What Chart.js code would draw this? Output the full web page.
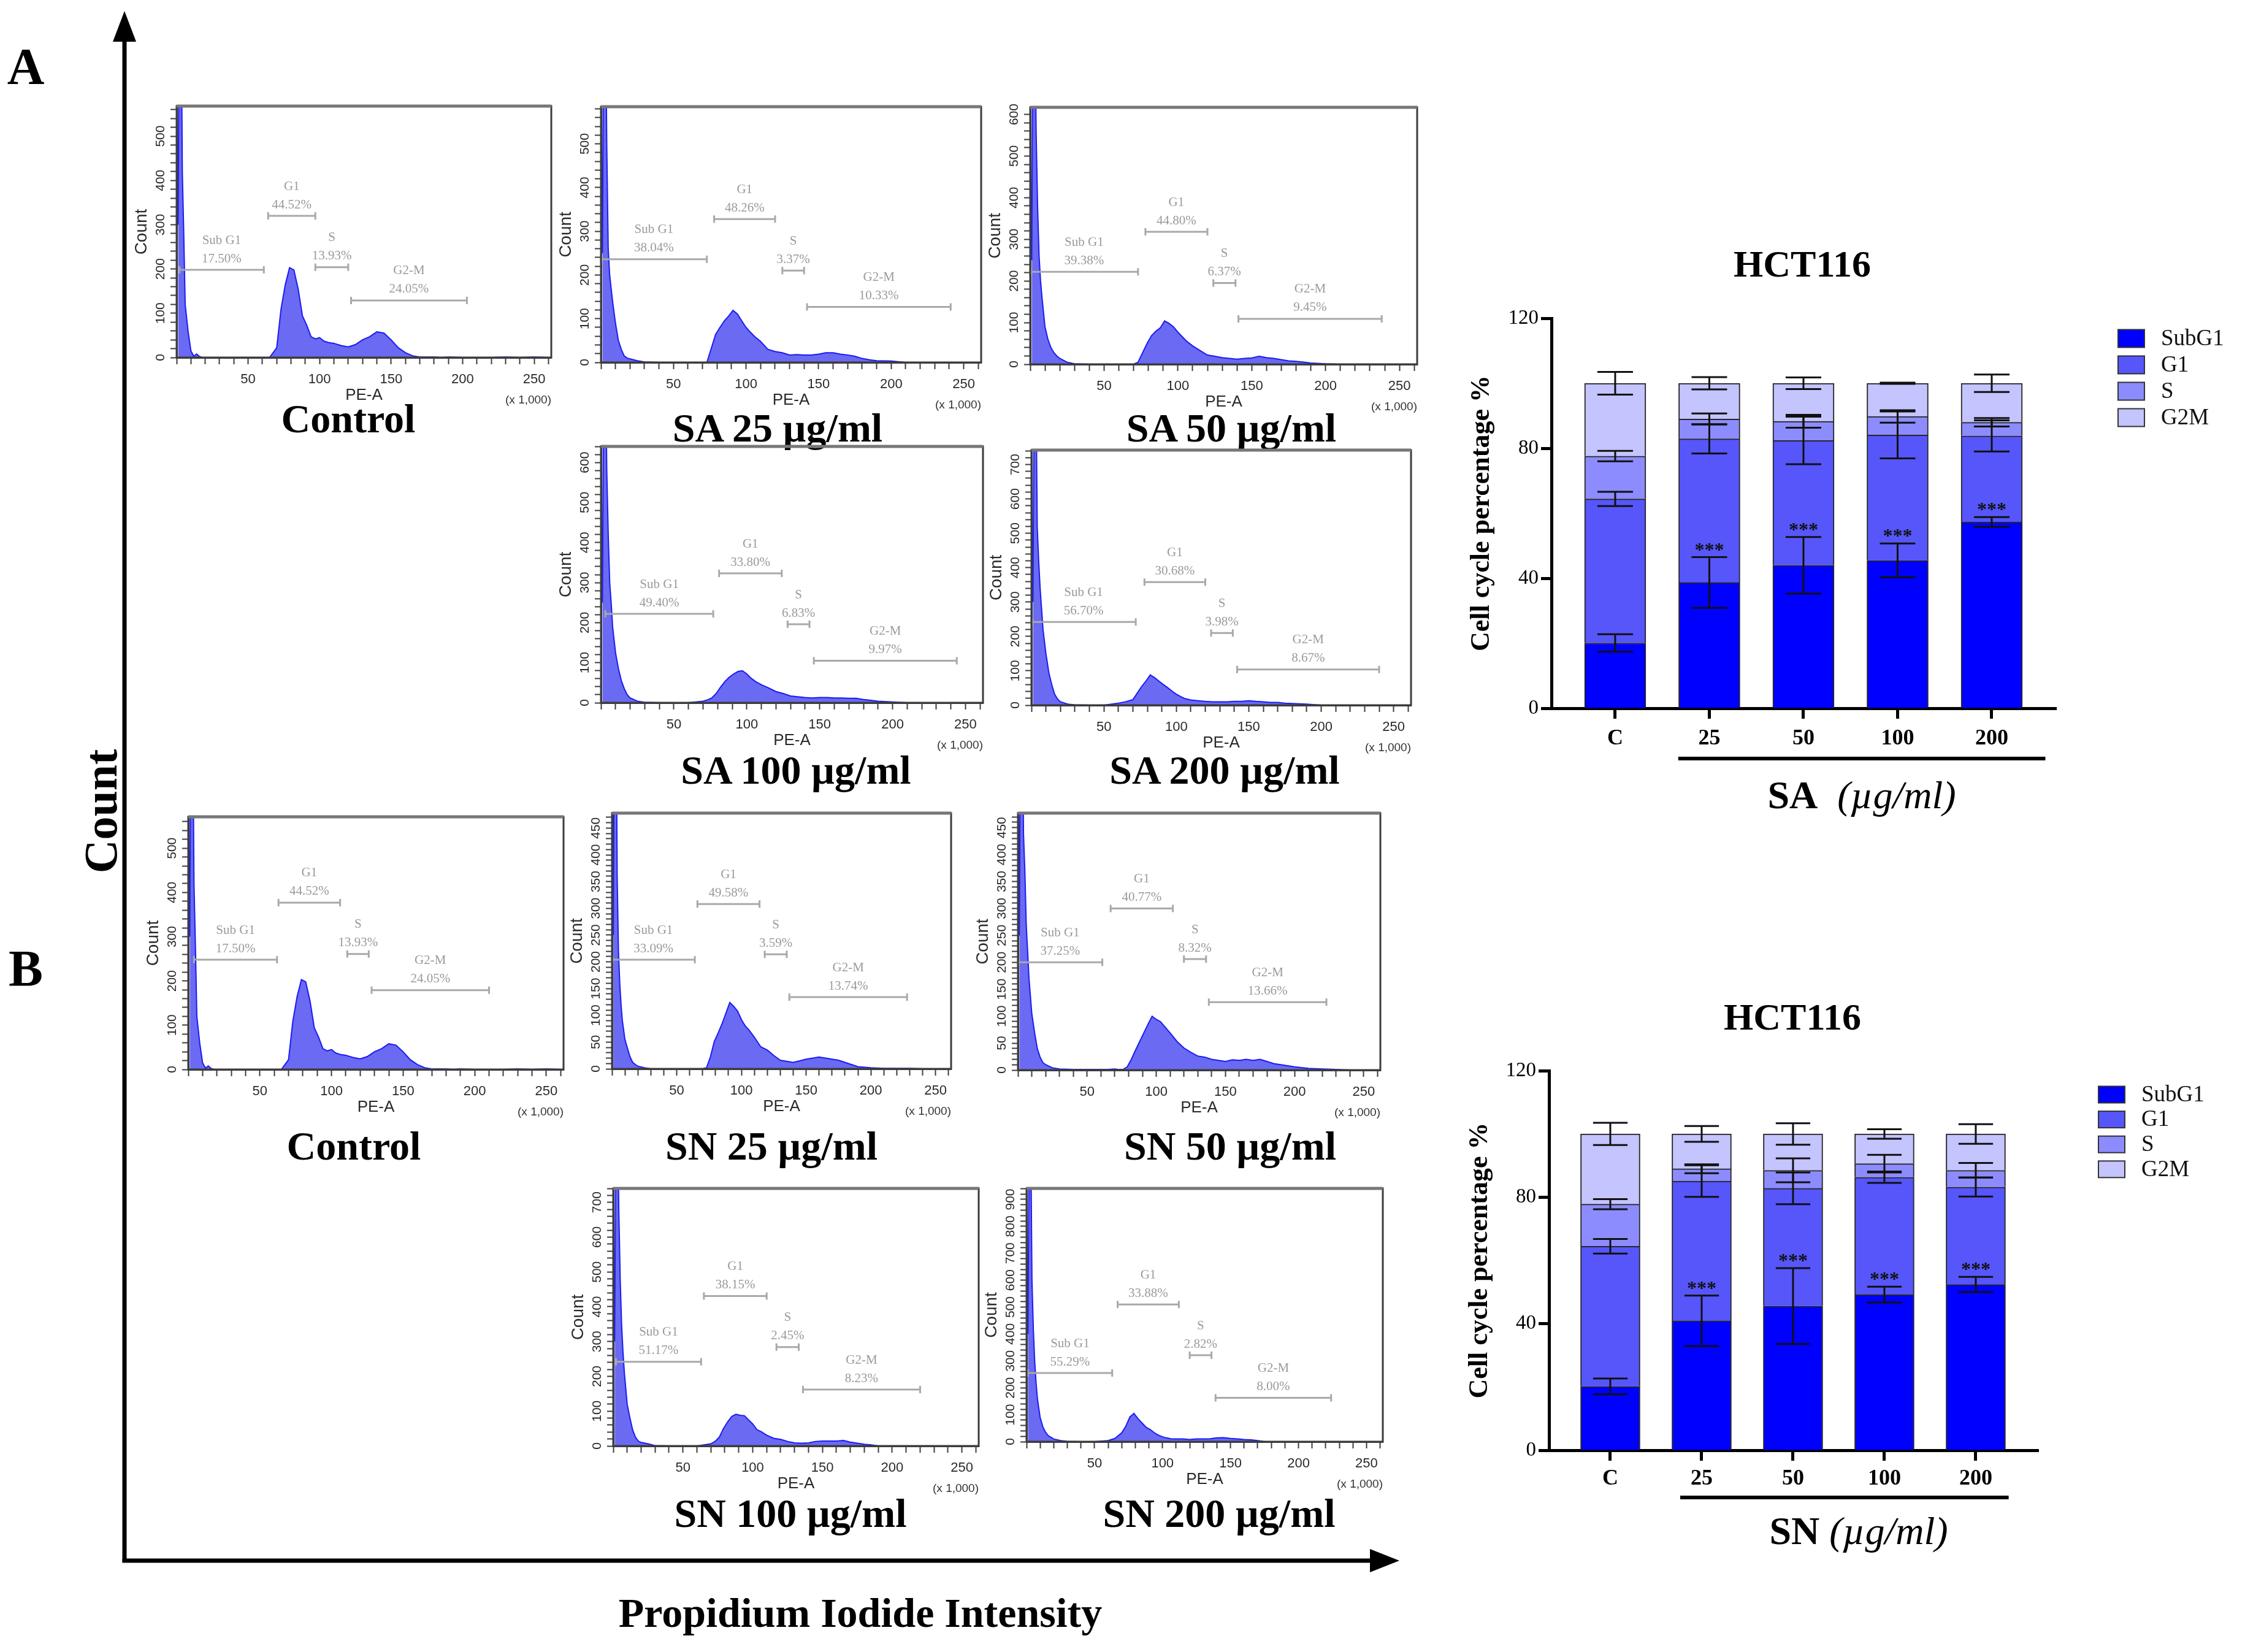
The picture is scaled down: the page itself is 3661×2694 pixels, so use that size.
<!DOCTYPE html>
<html>
<head>
<meta charset="utf-8">
<title>HCT116 cell cycle - SA / SN</title>
<script src="https://cdn.jsdelivr.net/npm/chart.js@4.4.1/dist/chart.umd.min.js"></script>
<style>
  html, body { margin: 0; padding: 0; background: #fff; }
  #page { position: relative; width: 3661px; height: 2694px; overflow: hidden; background: #fff; }
  .txt { position: absolute; transform: translate(-50%, -50%); white-space: nowrap; line-height: 1;
         color: #000; font-family: "Liberation Serif", "DejaVu Serif", serif; font-weight: bold; }
  canvas { position: absolute; }
  svg { position: absolute; left: 0; top: 0; }
</style>
</head>
<body>
<div id="page">
  <svg width="3661" height="2694">
    <line x1="203" y1="2548" x2="203" y2="60" stroke="#000" stroke-width="7"/>
    <polygon points="203,18 184,68 222,68" fill="#000"/>
    <line x1="199.5" y1="2545" x2="2240" y2="2545" stroke="#000" stroke-width="7"/>
    <polygon points="2282,2545 2234,2526 2234,2564" fill="#000"/>
  </svg>
</div>
<script>
// ======================
// Histogram data (PE-A x1000 -> count)
// ======================
const histBins = [1, 2, 3, 4, 5, 6, 7, 8, 10, 12, 14, 16, 18, 20, 25, 30, 40, 50, 60, 65, 70,
  73, 76, 79, 82, 85, 88, 91, 94, 97, 100, 103, 106, 110, 115, 120, 125, 130, 135, 140, 145,
  150, 155, 160, 165, 170, 175, 180, 185, 190, 200, 210, 220, 230, 240, 250, 260];

const ctrlCounts = [300, 900, 900, 420, 280, 120, 90, 60, 15, 3, 8, 2, 0, 0, 0, 0, 0, 0, 0, 0, 22,
  109, 165, 203, 198, 155, 94, 73, 47, 42, 45, 37, 34, 32, 27, 24, 29, 40, 47, 58, 55,
  40, 22, 11, 4, 1, 1, 1, 0, 1, 0, 0, 0, 1, 0, 1, 0];
const sa25Counts = [250, 900, 900, 500, 260, 200, 170, 140, 90, 50, 30, 15, 10, 8, 4, 1, 0, 0, 0, 0, 0,
  0, 32, 64, 80, 95, 106, 119, 111, 95, 80, 69, 59, 48, 30, 25, 22, 17, 18, 17, 17,
  19, 22, 22, 19, 17, 14, 9, 6, 4, 3, 0, 0, 0, 0, 0, 0];
const sa50Counts = [250, 900, 900, 560, 380, 260, 200, 160, 90, 60, 40, 28, 20, 14, 5, 1, 0, 0, 0, 0, 0,
  5, 27, 49, 68, 79, 87, 104, 98, 90, 77, 66, 55, 44, 33, 22, 19, 16, 14, 12, 14,
  15, 19, 16, 14, 11, 8, 7, 5, 3, 1, 0, 0, 0, 0, 0, 0];
const sa100Counts = [250, 900, 900, 580, 420, 300, 250, 190, 125, 85, 55, 35, 20, 12, 4, 1, 0, 0, 0, 2, 4,
  7, 12, 23, 39, 53, 64, 72, 78, 80, 72, 61, 53, 45, 37, 28, 23, 17, 15, 13, 12,
  13, 13, 12, 12, 11, 11, 8, 6, 4, 2, 0, 0, 0, 0, 0, 0];
const sa200Counts = [300, 1000, 1000, 520, 420, 340, 280, 220, 150, 95, 60, 32, 18, 10, 3, 1, 0, 0, 6, 10, 16,
  35, 54, 70, 88, 80, 70, 60, 51, 41, 32, 25, 19, 15, 13, 11, 10, 10, 10, 11, 11,
  13, 11, 10, 8, 8, 6, 5, 4, 3, 0, 0, 0, 0, 0, 0, 0];
const sn25Counts = [250, 800, 800, 360, 220, 160, 120, 90, 55, 38, 22, 12, 8, 5, 2, 0, 0, 0, 0, 0, 0,
  2, 22, 51, 67, 84, 104, 124, 117, 108, 92, 80, 72, 59, 41, 35, 25, 16, 14, 12, 15,
  18, 20, 22, 20, 18, 16, 12, 8, 4, 2, 1, 1, 1, 0, 0, 0];
const sn50Counts = [250, 800, 800, 440, 370, 270, 220, 170, 105, 70, 40, 24, 14, 10, 4, 2, 1, 1, 1, 1, 2,
  1, 1, 6, 20, 37, 53, 69, 85, 100, 94, 90, 81, 69, 53, 41, 33, 26, 24, 20, 18,
  16, 19, 18, 20, 18, 20, 16, 12, 10, 6, 3, 2, 1, 0, 0, 0];
const sn100Counts = [300, 1000, 1000, 680, 480, 350, 270, 210, 120, 80, 45, 25, 14, 10, 6, 1, 0, 0, 0, 3, 6,
  13, 25, 50, 69, 85, 91, 88, 87, 75, 63, 47, 41, 31, 22, 19, 13, 9, 8, 9, 13,
  14, 14, 14, 16, 11, 8, 5, 3, 0, 0, 0, 0, 0, 0, 0, 0];
const sn200Counts = [400, 1200, 1200, 600, 420, 300, 220, 160, 90, 55, 35, 22, 16, 10, 4, 1, 0, 0, 4, 12, 33,
  57, 92, 105, 85, 69, 53, 45, 33, 24, 18, 14, 11, 10, 10, 8, 10, 10, 11, 14, 15,
  12, 10, 8, 7, 4, 0, 0, 0, 0, 0, 0, 0, 0, 0, 0, 0];

// gates: [from, to] on PE-A, height in counts, percentage text
const gateNames = ['Sub G1', 'G1', 'S', 'G2-M'];
const ctrlAGateX = [[2, 61], [64, 97], [97, 120], [122, 203]];
const ctrlAGateY = [198, 320, 204, 129];
const ctrlPct = ['17.50%', '44.52%', '13.93%', '24.05%'];
const sa25GateX = [[0, 73], [78, 120], [125, 140], [142, 241]];
const sa25GateY = [236, 328, 210, 127];
const sa25Pct = ['38.04%', '48.26%', '3.37%', '10.33%'];
const sa50GateX = [[0, 73], [78, 120], [124, 139], [141, 238]];
const sa50GateY = [222, 318, 195, 109];
const sa50Pct = ['39.38%', '44.80%', '6.37%', '9.45%'];
const sa100GateX = [[3, 77], [81, 124], [128, 143], [146, 244]];
const sa100GateY = [222, 323, 196, 105];
const sa100Pct = ['49.40%', '33.80%', '6.83%', '9.97%'];
const sa200GateX = [[0, 72], [78, 120], [124, 139], [142, 240]];
const sa200GateY = [242, 358, 210, 104];
const sa200Pct = ['56.70%', '30.68%', '3.98%', '8.67%'];
const ctrlBGateX = [[4, 62], [63, 106], [111, 126], [128, 210]];
const ctrlBGateY = [248, 377, 261, 179];
const sn25GateX = [[0, 64], [66, 114], [118, 135], [137, 228]];
const sn25GateY = [204, 308, 214, 134];
const sn25Pct = ['33.09%', '49.58%', '3.59%', '13.74%'];
const sn50GateX = [[0, 61], [67, 112], [120, 136], [138, 223]];
const sn50GateY = [200, 300, 206, 126];
const sn50Pct = ['37.25%', '40.77%', '8.32%', '13.66%'];
const sn100GateX = [[2, 63], [65, 110], [117, 133], [136, 220]];
const sn100GateY = [242, 431, 284, 162];
const sn100Pct = ['51.17%', '38.15%', '2.45%', '8.23%'];
const sn200GateX = [[1, 63], [67, 112], [120, 136], [139, 224]];
const sn200GateY = [255, 510, 321, 163];
const sn200Pct = ['55.29%', '33.88%', '2.82%', '8.00%'];

// ======================
// Cell cycle bar data (%)
// ======================
const doseLabels = ['C', '25', '50', '100', '200'];
const phaseNames = ['SubG1', 'G1', 'S', 'G2M'];

const saSubG1 = [20.1, 38.7, 44.0, 45.5, 57.3];
const saG1 = [44.3, 44.2, 38.4, 38.6, 26.5];
const saS = [13.2, 6.1, 5.9, 5.7, 4.2];
const saG2M = [22.4, 11.0, 11.7, 10.2, 12.0];
const saSubG1Err = [2.7, 7.8, 8.7, 5.2, 1.5];
const saG1Err = [2.2, 4.5, 7.3, 7.2, 4.8];
const saSErr = [1.6, 1.7, 2.0, 1.9, 1.3];
const saG2MErr = [3.5, 1.9, 1.8, 0.2, 2.7];
const saStars = ['', '***', '***', '***', '***'];

const snSubG1 = [20.2, 40.9, 45.6, 49.2, 52.4];
const snG1 = [44.3, 44.2, 37.2, 37.1, 30.8];
const snS = [13.3, 3.9, 5.7, 4.3, 5.3];
const snG2M = [22.2, 11.0, 11.5, 9.4, 11.5];
const snSubG1Err = [2.5, 8.0, 12.0, 2.5, 2.4];
const snG1Err = [2.3, 5.0, 5.0, 1.8, 3.0];
const snSErr = [1.6, 1.4, 3.8, 2.8, 2.3];
const snG2MErr = [3.5, 2.5, 3.4, 1.5, 3.1];
const snStars = ['', '***', '***', '***', '***'];

// ======================
// Styling / layout
// ======================
const serif = '"Liberation Serif", "DejaVu Serif", serif';
const sans = '"Liberation Sans", Arial, sans-serif';
const phaseColors = ['#0000ff', '#5656fb', '#8c8cff', '#c4c4ff'];
const page = document.getElementById('page');

Chart.defaults.font.family = serif;

function addText(html, x, y, size, extra) {
  const d = document.createElement('div');
  d.className = 'txt';
  d.innerHTML = html;
  d.style.left = x + 'px';
  d.style.top = y + 'px';
  d.style.fontSize = size + 'px';
  if (extra) Object.assign(d.style, extra);
  page.appendChild(d);
}

// resize / move a chart so its plotting area lands on box = [L, T, R, B]
function fitChart(chart, canvas, box) {
  const [L, T, R, B] = box;
  for (let k = 0; k < 4; k++) {
    const a = chart.chartArea;
    const w = Math.round(chart.width + (R - L) - (a.right - a.left));
    const h = Math.round(chart.height + (B - T) - (a.bottom - a.top));
    if (w === chart.width && h === chart.height) break;
    chart.resize(w, h);
  }
  const a = chart.chartArea;
  canvas.style.left = (L - a.left) + 'px';
  canvas.style.top = (T - a.top) + 'px';
}

// gate bars, frame and the (x 1,000) note of every histogram
const gatePlugin = {
  id: 'gates',
  afterDatasetsDraw(chart, args, opts) {
    const { ctx, scales: { x, y } } = chart;
    ctx.save();
    opts.gateX.forEach((g, i) => {
      const x1 = x.getPixelForValue(g[0]);
      const x2 = x.getPixelForValue(g[1]);
      const yy = y.getPixelForValue(opts.gateY[i]);
      ctx.strokeStyle = '#a9a9a9';
      ctx.lineWidth = 3;
      ctx.beginPath();
      ctx.moveTo(x1, yy); ctx.lineTo(x2, yy);
      ctx.moveTo(x1, yy - 6); ctx.lineTo(x1, yy + 6);
      ctx.moveTo(x2, yy - 6); ctx.lineTo(x2, yy + 6);
      ctx.stroke();
      ctx.fillStyle = '#9a9a9a';
      ctx.font = '21px ' + serif;
      ctx.textAlign = 'center';
      ctx.textBaseline = 'middle';
      const cx = (x1 + x2) / 2;
      ctx.fillText(gateNames[i], cx, yy - 48);
      ctx.fillText(opts.pct[i], cx, yy - 18);
    });
    ctx.restore();
  },
  afterDraw(chart) {
    const { ctx, chartArea: a } = chart;
    ctx.save();
    ctx.strokeStyle = '#3c3c3c';
    ctx.lineWidth = 3;
    ctx.strokeRect(a.left, a.top, a.right - a.left, a.bottom - a.top);
    ctx.strokeStyle = '#777';
    ctx.lineWidth = 5;
    ctx.beginPath(); ctx.moveTo(a.left, a.top); ctx.lineTo(a.right, a.top); ctx.stroke();
    ctx.fillStyle = '#333';
    ctx.font = '19px ' + sans;
    ctx.textAlign = 'right';
    ctx.textBaseline = 'middle';
    ctx.fillText('(x 1,000)', a.right, a.bottom + 70);
    ctx.restore();
  }
};

const histPanels = [
  { box: [288, 173, 899, 583], yMax: 568, yStep: 20, yLab: 100, counts: ctrlCounts, gateX: ctrlAGateX, gateY: ctrlAGateY, pct: ctrlPct, caption: 'Control', cap: [568, 683] },
  { box: [980, 174, 1600, 591], yMax: 585, yStep: 20, yLab: 100, counts: sa25Counts, gateX: sa25GateX, gateY: sa25GateY, pct: sa25Pct, caption: 'SA 25 µg/ml', cap: [1268, 698] },
  { box: [1680, 175, 2311, 594], yMax: 617, yStep: 20, yLab: 100, counts: sa50Counts, gateX: sa50GateX, gateY: sa50GateY, pct: sa50Pct, caption: 'SA 50 µg/ml', cap: [2008, 698] },
  { box: [980, 728, 1603, 1146], yMax: 640, yStep: 20, yLab: 100, counts: sa100Counts, gateX: sa100GateX, gateY: sa100GateY, pct: sa100Pct, caption: 'SA 100 µg/ml', cap: [1298, 1256] },
  { box: [1682, 734, 2301, 1150], yMax: 742, yStep: 20, yLab: 100, counts: sa200Counts, gateX: sa200GateX, gateY: sa200GateY, pct: sa200Pct, caption: 'SA 200 µg/ml', cap: [1997, 1256] },
  { box: [307, 1332, 919, 1744], yMax: 571, yStep: 20, yLab: 100, counts: ctrlCounts, gateX: ctrlBGateX, gateY: ctrlBGateY, pct: ctrlPct, caption: 'Control', cap: [577, 1869] },
  { box: [998, 1326, 1551, 1743], yMax: 478, yStep: 10, yLab: 50, counts: sn25Counts, gateX: sn25GateX, gateY: sn25GateY, pct: sn25Pct, caption: 'SN 25 µg/ml', cap: [1258, 1869] },
  { box: [1660, 1326, 2251, 1745], yMax: 477, yStep: 10, yLab: 50, counts: sn50Counts, gateX: sn50GateX, gateY: sn50GateY, pct: sn50Pct, caption: 'SN 50 µg/ml', cap: [2006, 1869] },
  { box: [1000, 1938, 1596, 2358], yMax: 740, yStep: 20, yLab: 100, counts: sn100Counts, gateX: sn100GateX, gateY: sn100GateY, pct: sn100Pct, caption: 'SN 100 µg/ml', cap: [1289, 2468] },
  { box: [1674, 1938, 2255, 2351], yMax: 941, yStep: 20, yLab: 100, counts: sn200Counts, gateX: sn200GateX, gateY: sn200GateY, pct: sn200Pct, caption: 'SN 200 µg/ml', cap: [1988, 2468] }
];

function drawHistogram(p) {
  const padL = 82, padT = 24, padR = 12, padB = 92;
  const [L, T, R, B] = p.box;
  const canvas = document.createElement('canvas');
  canvas.width = R - L + padL + padR;
  canvas.height = B - T + padT + padB;
  page.appendChild(canvas);

  const chart = new Chart(canvas, {
    type: 'line',
    data: {
      datasets: [{
        data: histBins.map((x, i) => ({ x: x, y: p.counts[i] })),
        borderColor: '#1c1cf2',
        backgroundColor: '#6a6af3',
        borderWidth: 2,
        fill: 'origin',
        pointRadius: 0,
        tension: 0
      }]
    },
    options: {
      responsive: false,
      maintainAspectRatio: false,
      animation: false,
      devicePixelRatio: 1,
      layout: { padding: { left: 0, top: padT, right: padR, bottom: 0 } },
      plugins: {
        legend: { display: false },
        tooltip: { enabled: false },
        gates: { gateX: p.gateX, gateY: p.gateY, pct: p.pct }
      },
      scales: {
        x: {
          type: 'linear', min: 0, max: 262,
          afterFit: s => { s.height = padB; },
          border: { color: '#3c3c3c', width: 3 },
          grid: { drawOnChartArea: false, tickLength: 11, tickWidth: 2, color: '#3c3c3c' },
          ticks: {
            stepSize: 10, autoSkip: false, includeBounds: false, maxRotation: 0, padding: 12,
            color: '#2a2a2a', font: { size: 22, family: sans },
            callback: v => (v > 0 && Math.round(v) % 50 === 0) ? String(Math.round(v)) : ''
          },
          title: { display: true, text: 'PE-A', color: '#2a2a2a', font: { size: 26, family: sans }, padding: { top: 0, bottom: 15 } }
        },
        y: {
          min: 0, max: p.yMax,
          afterFit: s => { s.width = padL; },
          border: { color: '#3c3c3c', width: 3 },
          grid: { drawOnChartArea: false, tickLength: 10, tickWidth: 2, color: '#3c3c3c' },
          ticks: {
            stepSize: p.yStep, autoSkip: false, includeBounds: false,
            minRotation: 90, maxRotation: 90, crossAlign: 'center', padding: -2,
            color: '#2a2a2a', font: { size: 21, family: sans },
            callback: v => Math.round(v) % p.yLab === 0 ? String(Math.round(v)) : ''
          },
          title: { display: true, text: 'Count', color: '#2a2a2a', font: { size: 28, family: sans }, padding: { top: 8, bottom: 0 } }
        }
      }
    },
    plugins: [gatePlugin]
  });

  fitChart(chart, canvas, p.box);
  addText(p.caption, p.cap[0], p.cap[1], 66);
}

histPanels.forEach(drawHistogram);

// ======================
// Stacked cell-cycle bars
// ======================
const cellCyclePlugin = {
  id: 'cellCycle',
  afterDatasetsDraw(chart, args, opts) {
    const { ctx, scales: { y } } = chart;
    const sets = chart.data.datasets;
    ctx.save();
    ctx.strokeStyle = '#111';
    ctx.lineWidth = 3;
    for (let i = 0; i < doseLabels.length; i++) {
      let cum = 0;
      sets.forEach((ds, k) => {
        cum += ds.data[i].y;
        const bar = chart.getDatasetMeta(k).data[i];
        const err = opts.errors[k][i];
        const yTop = y.getPixelForValue(cum + err);
        const yBot = y.getPixelForValue(cum - err);
        const half = bar.width * 0.29;
        ctx.beginPath();
        ctx.moveTo(bar.x, yTop); ctx.lineTo(bar.x, yBot);
        ctx.moveTo(bar.x - half, yTop); ctx.lineTo(bar.x + half, yTop);
        ctx.moveTo(bar.x - half, yBot); ctx.lineTo(bar.x + half, yBot);
        ctx.stroke();
        if (k === 0 && opts.stars[i]) {
          ctx.fillStyle = '#111';
          ctx.font = 'bold 32px ' + serif;
          ctx.textAlign = 'center';
          ctx.textBaseline = 'alphabetic';
          ctx.fillText(opts.stars[i], bar.x, yTop - 2);
        }
      });
    }
    ctx.restore();
  },
  afterDraw(chart, args, opts) {
    const { ctx, chartArea: a, scales: { x } } = chart;
    const lg = opts.legend;
    ctx.save();
    // legend
    chart.data.datasets.forEach((ds, k) => {
      const bx = a.right + lg.dx;
      const cy = a.top + lg.dy + k * lg.gap;
      ctx.fillStyle = ds.backgroundColor;
      ctx.fillRect(bx, cy - lg.h / 2, lg.w, lg.h);
      ctx.strokeStyle = '#333';
      ctx.lineWidth = 2;
      ctx.strokeRect(bx, cy - lg.h / 2, lg.w, lg.h);
      ctx.fillStyle = '#111';
      ctx.font = '37px ' + serif;
      ctx.textAlign = 'left';
      ctx.textBaseline = 'middle';
      ctx.fillText(ds.label, bx + lg.w + 27, cy + 1);
    });
    // bracket under the treated doses
    const br = opts.bracket;
    ctx.strokeStyle = '#000';
    ctx.lineWidth = 6;
    ctx.beginPath();
    ctx.moveTo(x.getPixelForValue(br.from), a.bottom + br.dy);
    ctx.lineTo(x.getPixelForValue(br.to), a.bottom + br.dy);
    ctx.stroke();
    ctx.restore();
  }
};

const barCharts = [
  { box: [2530, 519, 3353, 1155], padT: 169, padR: 308, axisW: 180, axisH: 195,
    xMin: -0.677, xMax: 4.684, barWidth: 100, xPad: 11, titlePad: 40,
    values: [saSubG1, saG1, saS, saG2M], errors: [saSubG1Err, saG1Err, saSErr, saG2MErr], stars: saStars,
    legend: { dx: 101, dy: 33, gap: 43, w: 43, h: 29 }, bracket: { from: 0.67, to: 4.57, dy: 82 },
    title: [2939, 430], xTitle: '<span>SA</span>&nbsp;&nbsp;<i style="font-weight:normal">(µg/ml)</i>', xTitlePos: [3036, 1297] },
  { box: [2526, 1746, 3324, 2365], padT: 146, padR: 337, axisW: 176, axisH: 185,
    xMin: -0.671, xMax: 4.685, barWidth: 97, xPad: 8, titlePad: 37,
    values: [snSubG1, snG1, snS, snG2M], errors: [snSubG1Err, snG1Err, snSErr, snG2MErr], stars: snStars,
    legend: { dx: 98, dy: 39, gap: 40.6, w: 43, h: 27 }, bracket: { from: 0.765, to: 4.36, dy: 77 },
    title: [2923, 1658], xTitle: '<span>SN</span> <i style="font-weight:normal">(µg/ml)</i>', xTitlePos: [3031, 2497] }
];

function drawCellCycle(o) {
  const [L, T, R, B] = o.box;
  const canvas = document.createElement('canvas');
  canvas.width = R - L + o.axisW + o.padR;
  canvas.height = B - T + o.padT + o.axisH;
  page.appendChild(canvas);

  const datasets = o.values.map((vals, k) => ({
    label: phaseNames[k],
    data: vals.map((v, i) => ({ x: i, y: v })),
    backgroundColor: phaseColors[k],
    borderColor: '#262626',
    borderWidth: 2,
    barThickness: o.barWidth
  }));

  const chart = new Chart(canvas, {
    type: 'bar',
    data: { datasets },
    options: {
      responsive: false,
      maintainAspectRatio: false,
      animation: false,
      devicePixelRatio: 1,
      layout: { padding: { left: 0, top: o.padT, right: o.padR, bottom: 0 } },
      plugins: {
        legend: { display: false },
        tooltip: { enabled: false },
        cellCycle: { errors: o.errors, stars: o.stars, legend: o.legend, bracket: o.bracket }
      },
      scales: {
        x: {
          type: 'linear', stacked: true, min: o.xMin, max: o.xMax, offset: false,
          afterFit: s => { s.height = o.axisH; },
          border: { color: '#000', width: 5 },
          grid: { offset: false, drawOnChartArea: false, tickLength: 17, tickWidth: 5, color: '#000' },
          ticks: {
            stepSize: 1, includeBounds: false, autoSkip: false, maxRotation: 0, padding: o.xPad,
            color: '#000', font: { size: 36, weight: 'bold', family: serif },
            callback: v => doseLabels[Math.round(v)] ?? ''
          }
        },
        y: {
          stacked: true, min: 0, max: 120,
          afterFit: s => { s.width = o.axisW; },
          border: { color: '#000', width: 5 },
          grid: { drawOnChartArea: false, tickLength: 17, tickWidth: 5, color: '#000' },
          ticks: { stepSize: 40, padding: 4, color: '#000', font: { size: 33, family: serif } },
          title: {
            display: true, text: 'Cell cycle percentage %', color: '#000',
            font: { size: 44, weight: 'bold', family: serif }, padding: { top: o.titlePad, bottom: 0 }
          }
        }
      }
    },
    plugins: [cellCyclePlugin]
  });

  fitChart(chart, canvas, o.box);
  addText('HCT116', o.title[0], o.title[1], 62);
  addText(o.xTitle, o.xTitlePos[0], o.xTitlePos[1], 64);
  return chart;
}

barCharts.forEach(drawCellCycle);

// ======================
// Figure-level labels
// ======================
addText('A', 42, 109, 84);
addText('B', 42, 1580, 84);
addText('Count', 164, 1323, 76, { transform: 'translate(-50%, -50%) rotate(-90deg)' });
addText('Propidium Iodide Intensity', 1403, 2630, 68);
</script>
</body>
</html>
